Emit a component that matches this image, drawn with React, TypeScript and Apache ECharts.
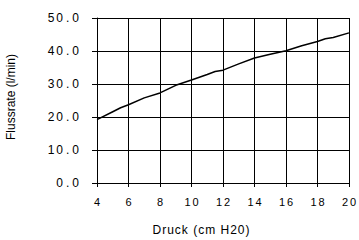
import React, { useEffect, useRef } from "react";
import * as echarts from "echarts";

const pressure = [4, 5, 5.5, 6, 7, 8, 9, 10, 11, 11.5, 12, 13, 14, 15, 16, 17, 18, 18.5, 19, 20];
const flow = [19.2, 21.6, 22.8, 23.7, 25.8, 27.3, 29.6, 31.2, 32.9, 33.8, 34.2, 36.1, 37.9, 39.0, 40.1, 41.6, 42.9, 43.7, 44.1, 45.5];
const xTitle = "Druck (cm H20)";
const yTitle = "Flussrate (l/min)";

const FONT = "'Liberation Sans', Arial, sans-serif";
const spaced = (s: string, sp: string) => s.split("").join(sp);
const yLabel = (v: number) => {
  const s = v.toFixed(1);
  const [a, b] = s.split(".");
  return spaced(a, "\u2006") + "\u2005.\u2005" + b;
};

export default function App() {
  const ref = useRef<HTMLDivElement>(null);
  useEffect(() => {
    if (!ref.current) return;
    const chart = echarts.init(ref.current, null, { renderer: "svg" });
    chart.setOption({
      animation: false,
      backgroundColor: "#ffffff",
      grid: { left: 97, right: 10, top: 18, height: 165 },
      xAxis: {
        type: "value",
        min: 4,
        max: 20,
        interval: 2,
        axisLine: { show: true, lineStyle: { color: "#000", width: 1 } },
        axisTick: { show: true, length: 4, lineStyle: { color: "#000" } },
        splitLine: { show: true, lineStyle: { color: "#000", width: 1 } },
        axisLabel: {
          margin: 13,
          color: "#000",
          fontFamily: FONT,
          fontSize: 11,
          formatter: (v: number) => spaced(String(v), "\u2006"),
        },
      },
      yAxis: {
        type: "value",
        min: 0,
        max: 50,
        interval: 10,
        axisLine: { show: true, lineStyle: { color: "#000", width: 1 } },
        axisTick: { show: true, length: 5, lineStyle: { color: "#000" } },
        splitLine: { show: true, lineStyle: { color: "#000", width: 1 } },
        axisLabel: {
          margin: 18,
          color: "#000",
          fontFamily: FONT,
          fontSize: 12,
          formatter: yLabel,
        },
      },
      graphic: [
        {
          type: "text",
          x: 201,
          y: 229.5,
          style: {
            text: spaced(xTitle, "\u200A"),
            fill: "#000",
            font: `12px ${FONT}`,
            align: "center",
            verticalAlign: "middle",
          },
        },
        {
          type: "text",
          x: 10.5,
          y: 97,
          rotation: Math.PI / 2,
          style: {
            text: yTitle,
            fill: "#000",
            font: `12px ${FONT}`,
            align: "center",
            verticalAlign: "middle",
          },
        },
      ],
      series: [
        {
          type: "line",
          data: pressure.map((p, i) => [p, flow[i]]),
          showSymbol: false,
          symbol: "none",
          lineStyle: { color: "#000", width: 1.5 },
        },
      ],
    });
    return () => chart.dispose();
  }, []);
  return <div ref={ref} style={{ position: "absolute", left: 0, top: 0, width: 359, height: 240 }} />;
}
